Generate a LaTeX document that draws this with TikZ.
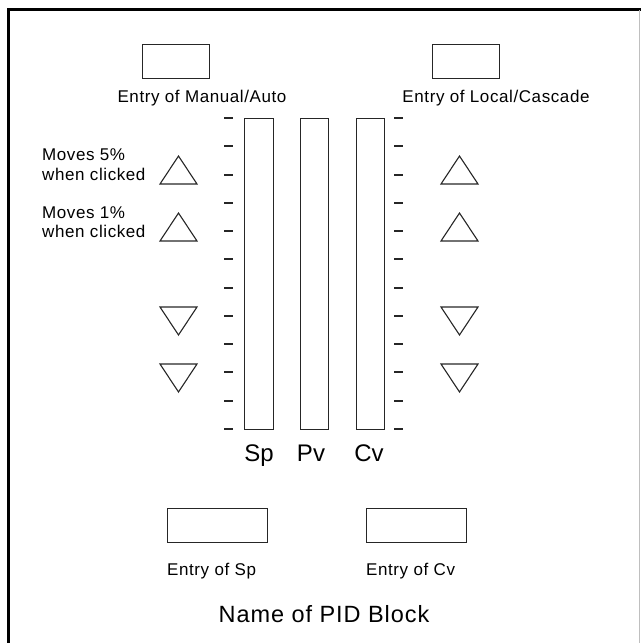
\documentclass[tikz,border=0pt]{standalone}
\usepackage{fontspec}
\setmainfont{Liberation Sans}
\begin{document}
\begin{tikzpicture}[x=1pt,y=-1pt,
  ln/.style={draw=black!85,line width=1.1pt},
  entrybox/.style={ln,rectangle,inner sep=0pt,anchor=north west},
  bar/.style={ln,rectangle,inner sep=0pt,anchor=north west},
  small/.style={inner sep=0pt,anchor=base,font=\fontsize{17}{18}\selectfont\addfontfeature{LetterSpace=3.5}},
  big/.style={inner sep=0pt,anchor=base,font=\fontsize{24}{26}\selectfont},
  tick/.style={draw=black!85,line width=1.6pt},
  tri/.style={draw=black!85,line width=1.1pt,line join=miter}]
\useasboundingbox (0,0) rectangle (641,643);
% frame
\draw[line width=3pt] (8.5,643) -- (8.5,9) -- (641,9);
\draw[black!25,line width=0.8pt] (639,10) -- (639,643);
% top entry boxes
\node[entrybox,minimum width=67pt,minimum height=34pt] (ma) at (142,44) {};
\node[entrybox,minimum width=67pt,minimum height=34pt] (lc) at (432,44) {};
\node[small] (mat) at (202,102.5) {Entry of Manual/Auto};
\node[small] (lct) at (496,102.5) {Entry of Local/Cascade};
% bars
\node[bar,minimum width=29pt,minimum height=311pt] (sp) at (243.5,118) {};
\node[bar,minimum width=28pt,minimum height=311pt] (pv) at (300,118) {};
\node[bar,minimum width=28pt,minimum height=311pt] (cv) at (356,118) {};
% ticks
\foreach \i in {0,...,11}{
  \pgfmathsetmacro{\ty}{118+round(\i*28.27)}
  \draw[tick] (224,\ty) -- (233,\ty);
  \draw[tick] (394,\ty) -- (403,\ty);
}
% bar labels
\node[big] (spl) at (259,461) {Sp};
\node[big] (pvl) at (311,461) {Pv};
\node[big] (cvl) at (369,461) {Cv};
% up triangles
\foreach \xx in {160,441}{
  \foreach \yy in {156,213}{
    \draw[tri] (\xx,\yy+28) -- (\xx+18.5,\yy) -- (\xx+37,\yy+28) -- cycle;
  }
}
% down triangles
\foreach \xx in {160,441}{
  \foreach \yy in {307,364}{
    \draw[tri] (\xx,\yy) -- (\xx+37,\yy) -- (\xx+18.5,\yy+28) -- cycle;
  }
}
% labels for up triangles
\node[small,anchor=base west] (m5a) at (42,160.5) {Moves 5\%};
\node[small,anchor=base west] (m5b) at (42,180) {when clicked};
\node[small,anchor=base west] (m1a) at (42,218) {Moves 1\%};
\node[small,anchor=base west] (m1b) at (42,237) {when clicked};
% bottom entry boxes
\node[entrybox,minimum width=100pt,minimum height=34pt] (esp) at (167,508) {};
\node[entrybox,minimum width=100pt,minimum height=34pt] (ecv) at (366,508) {};
\node[small,anchor=base west] (espt) at (167,575) {Entry of Sp};
\node[small,anchor=base west] (ecvt) at (366,575) {Entry of Cv};
\node[big,font=\fontsize{23.5}{26}\selectfont\addfontfeature{LetterSpace=4}] (name) at (324,622) {Name of PID Block};
\end{tikzpicture}
\end{document}
